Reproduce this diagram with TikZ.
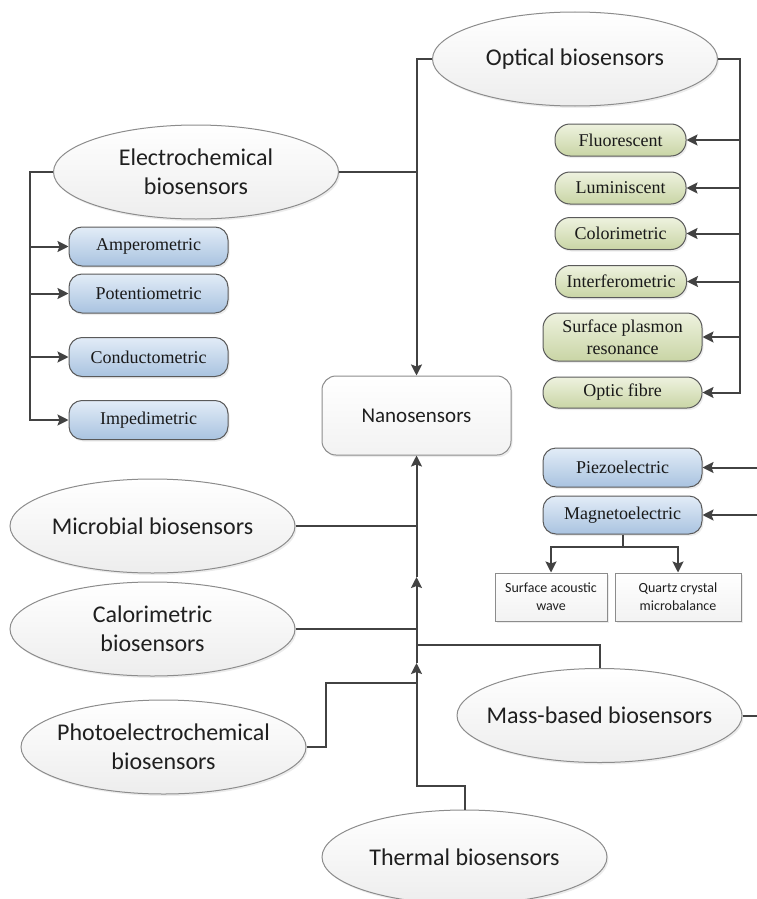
\documentclass[tikz,border=0pt]{standalone}
\usepackage{fontspec}
\setmainfont{Carlito}
\newfontfamily\boxserif{Liberation Serif}
\usetikzlibrary{shapes.geometric,arrows.meta,shadows}

\definecolor{linegray}{HTML}{424242}
\definecolor{ellborder}{HTML}{8C8C8C}
\definecolor{bluetop}{HTML}{E2ECF7}
\definecolor{bluebot}{HTML}{A9C3E0}
\definecolor{greentop}{HTML}{EEF2DF}
\definecolor{greenbot}{HTML}{C9D5A5}
\definecolor{boxborder}{HTML}{5A5A5A}

\tikzset{
  softshadow/.style={drop shadow={opacity=0.15,shadow xshift=1.5pt,shadow yshift=-2pt}},
  ell/.style={ellipse, draw=ellborder, line width=1pt, minimum width=285pt,
    minimum height=94pt, inner sep=0pt, top color=white, bottom color=black!7, softshadow},
  elltext/.style={align=center, text=black!88, font=\fontsize{24}{29}\selectfont},
  bluebox/.style={draw=boxborder, line width=1pt, rounded corners=13pt,
    top color=bluetop, bottom color=bluebot, minimum width=159pt, minimum height=39pt,
    inner sep=0pt, align=center, text=black!90, font=\boxserif\fontsize{18}{22}\selectfont, softshadow},
  greenbox/.style={draw=boxborder, line width=1pt, rounded corners=15pt,
    top color=greentop, bottom color=greenbot, minimum width=131pt, minimum height=32pt,
    inner sep=0pt, align=center, text=black!90, font=\boxserif\fontsize{18}{22}\selectfont, softshadow},
  nanobox/.style={draw=black!45, line width=1pt, rounded corners=14pt,
    top color=white, bottom color=black!5, minimum width=189pt, minimum height=79pt,
    inner sep=0pt, text=black!88, font=\fontsize{21}{25}\selectfont, softshadow},
  smallbox/.style={draw=black!45, line width=1pt, top color=white, bottom color=black!5,
    minimum height=48pt, inner sep=0pt, align=center, text=black!88,
    font=\fontsize{14}{18}\selectfont, softshadow},
  conn/.style={draw=linegray, line width=2pt},
  arr/.style={-{Stealth[length=11pt,width=11pt,inset=2pt]}}
}

\begin{document}
\begin{tikzpicture}[x=1pt,y=-1pt]
\useasboundingbox (0,0) rectangle (757,899);

% bus coordinates
\coordinate (lbus) at (30,0);
\coordinate (cbus) at (416.5,0);
\coordinate (rbus) at (740,0);
\coordinate (redge) at (757,0);

% central node
\node[nanobox] (nano) at (416.5,415.5) {Nanosensors};

% biosensor families
\node[ell] (opt) at (575,59) {};
\node[elltext] at (opt) {Optical biosensors};
\node[ell] (ele) at (196,172) {};
\node[elltext] at (ele) {Electrochemical\\biosensors};
\node[ell] (mic) at (152.5,526) {};
\node[elltext] at (mic) {Microbial biosensors};
\node[ell] (cal) at (152.5,629) {};
\node[elltext] at (cal) {Calorimetric\\biosensors};
\node[ell] (pho) at (163.5,747) {};
\node[elltext] at (pho) {Photoelectrochemical\\biosensors};
\node[ell] (mas) at (599.5,715.5) {};
\node[elltext] at (mas) {Mass-based biosensors};
\node[ell] (the) at (464.5,857) {};
\node[elltext] at (the) {Thermal biosensors};

% electrochemical subtypes
\node[bluebox] (amp) at (148.5,246.5) {Amperometric};
\node[bluebox] (pot) at (148.5,293.5) {Potentiometric};
\node[bluebox] (con) at (148.5,357) {Conductometric};
\node[bluebox] (imp) at (148.5,420) {Impedimetric};

% optical subtypes
\node[greenbox] (flu) at (620.5,140) {Fluorescent};
\node[greenbox] (lum) at (620.5,188) {Luminiscent};
\node[greenbox] (col) at (620.5,233.5) {Colorimetric};
\node[greenbox] (int) at (621,281.5) {Interferometric};
\node[greenbox, minimum width=159pt, minimum height=48pt] (spr) at (622.5,337) {Surface plasmon\\resonance};
\node[greenbox, minimum width=159pt, minimum height=31pt] (ofb) at (622.5,392.5) {Optic fibre};

% mass-based subtypes
\node[bluebox] (pie) at (622.5,467.5) {Piezoelectric};
\node[bluebox, minimum height=38pt] (mag) at (622.5,515) {Magnetoelectric};
\node[smallbox, minimum width=112pt] (saw) at (551,597) {Surface acoustic\\wave};
\node[smallbox, minimum width=126pt] (qcm) at (678,597) {Quartz crystal\\microbalance};

% junctions on the central trunk
\coordinate (a1) at (416.5,577);
\coordinate (j2) at (416.5,629);
\coordinate (j3) at (416.5,645);
\coordinate (a2) at (416.5,663);
\coordinate (j4) at (416.5,682.5);
\coordinate (pb) at (326,682.5);
\coordinate (j5) at (416.5,786);

% optical and electrochemical into nanosensors
\draw[conn,arr] (opt.west) -| (nano.north);
\draw[conn] (ele.east) -- (cbus |- ele.east);

% electrochemical branches
\draw[conn,arr] (ele.west) -| (lbus |- imp.west) -- (imp.west);
\draw[conn,arr] (lbus |- amp.west) -- (amp.west);
\draw[conn,arr] (lbus |- pot.west) -- (pot.west);
\draw[conn,arr] (lbus |- con.west) -- (con.west);

% optical branches
\draw[conn,arr] (opt.east) -| (rbus |- ofb.east) -- (ofb.east);
\draw[conn,arr] (rbus |- flu.east) -- (flu.east);
\draw[conn,arr] (rbus |- lum.east) -- (lum.east);
\draw[conn,arr] (rbus |- col.east) -- (col.east);
\draw[conn,arr] (rbus |- int.east) -- (int.east);
\draw[conn,arr] (rbus |- spr.east) -- (spr.east);

% mass-based branches
\draw[conn,arr] (redge |- pie.east) -- (pie.east);
\draw[conn,arr] (redge |- mag.east) -- (mag.east);
\draw[conn] (mas.east) -- (redge |- mas.east);
\draw[conn] (mag.south) -- ++(0,12) coordinate (mj);
\draw[conn,arr] (mj) -| (saw.north);
\draw[conn,arr] (mj) -| (qcm.north);

% lower families feeding the trunk
\draw[conn,arr] (the.north) |- (j5) -- (a2);
\draw[conn,arr] (a2) -- (a1);
\draw[conn,arr] (a1) -- (nano.south);
\draw[conn] (mic.east) -- (cbus |- mic.east);
\draw[conn] (cal.east) -- (j2);
\draw[conn] (mas.north) |- (j3);
\draw[conn] (pho.east) -| (pb) -- (j4);
\end{tikzpicture}
\end{document}
